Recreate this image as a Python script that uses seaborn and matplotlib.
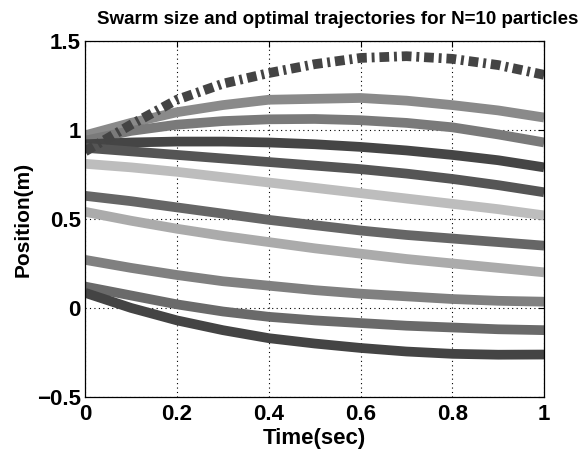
import numpy as np
import pandas as pd
import seaborn as sns
import matplotlib.pyplot as plt

# time samples (sec)
t = [0.0, 0.1, 0.2, 0.3, 0.4, 0.5, 0.6, 0.7, 0.8, 0.9, 1.0]

# swarm size curve (dash-dot)
swarm = [0.88, 1.03, 1.17, 1.26, 1.32, 1.37, 1.405, 1.415, 1.40, 1.365, 1.31]

# particle trajectories
p1 = [0.97, 1.04, 1.10, 1.14, 1.17, 1.175, 1.18, 1.165, 1.14, 1.11, 1.07]
p2 = [0.94, 0.995, 1.03, 1.05, 1.06, 1.062, 1.055, 1.04, 1.015, 0.975, 0.93]
p3 = [0.92, 0.93, 0.935, 0.935, 0.93, 0.92, 0.905, 0.885, 0.86, 0.83, 0.79]
p4 = [0.90, 0.88, 0.86, 0.84, 0.82, 0.80, 0.78, 0.755, 0.725, 0.69, 0.65]
p5 = [0.81, 0.79, 0.765, 0.735, 0.705, 0.675, 0.645, 0.615, 0.585, 0.555, 0.52]
p6 = [0.63, 0.60, 0.565, 0.53, 0.495, 0.465, 0.435, 0.41, 0.39, 0.37, 0.35]
p7 = [0.54, 0.49, 0.445, 0.405, 0.37, 0.335, 0.305, 0.275, 0.25, 0.225, 0.20]
p8 = [0.27, 0.225, 0.185, 0.15, 0.125, 0.10, 0.08, 0.065, 0.05, 0.04, 0.035]
p9 = [0.12, 0.07, 0.02, -0.02, -0.05, -0.07, -0.085, -0.10, -0.11, -0.12, -0.125]
p10 = [0.085, 0.0, -0.07, -0.125, -0.17, -0.20, -0.225, -0.245, -0.258, -0.263, -0.262]

particles = [p1, p2, p3, p4, p5, p6, p7, p8, p9, p10]
grays = ["#8a8a8a", "#7a7a7a", "#454545", "#555555", "#bdbdbd",
         "#666666", "#ababab", "#808080", "#6a6a6a", "#444444"]

xticks = [0, 0.2, 0.4, 0.6, 0.8, 1]
xlabels = ["0", "0.2", "0.4", "0.6", "0.8", "1"]
yticks = [-0.5, 0, 0.5, 1, 1.5]
ylabels = ["\u22120.5", "0", "0.5", "1", "1.5"]

rows = []
for i, p in enumerate(particles):
    for tt, v in zip(t, p):
        rows.append({"t": tt, "pos": v, "particle": f"p{i+1}"})
df = pd.DataFrame(rows)
df_sw = pd.DataFrame({"t": t, "pos": swarm})

sns.set_style("white")
plt.rcParams["font.family"] = ["Liberation Sans", "DejaVu Sans"]
plt.rcParams["font.weight"] = "bold"
plt.rcParams["text.color"] = "black"
plt.rcParams["axes.labelcolor"] = "black"

fig = plt.figure(figsize=(5.87, 4.51), dpi=100)
ax = fig.add_axes([0.145, 0.12, 0.782, 0.789])

pal = {f"p{i+1}": c for i, c in enumerate(grays)}
sns.lineplot(data=df, x="t", y="pos", hue="particle", palette=pal,
             linewidth=7, legend=False, ax=ax, solid_capstyle="butt")
sns.lineplot(data=df_sw, x="t", y="pos", color="#444444", linewidth=7,
             linestyle=(0, (1.0, 0.5, 0.3, 0.5)), ax=ax, dash_capstyle="butt")

ax.set_xlim(0, 1)
ax.set_ylim(-0.5, 1.5)
ax.set_xticks(xticks)
ax.set_xticklabels(xlabels)
ax.set_yticks(yticks)
ax.set_yticklabels(ylabels)
ax.tick_params(direction="in", top=True, right=True, length=4, width=0.8,
               labelsize=16, colors="black")
ax.tick_params(axis="y", pad=3)
ax.tick_params(axis="x", pad=5)
for lab in ax.get_xticklabels() + ax.get_yticklabels():
    lab.set_fontweight("bold")
ax.grid(True, linestyle=(0, (1, 3)), color="black", linewidth=0.8)
for s in ax.spines.values():
    s.set_color("black")
    s.set_linewidth(0.9)

ax.set_xlabel("Time(sec)", fontsize=16, fontweight="bold", labelpad=2, color="black")
ax.set_ylabel("Position(m)", fontsize=15, fontweight="bold", labelpad=3, color="black")
ax.set_title("Swarm size and optimal trajectories for N=10 particles",
             fontsize=13.5, fontweight="bold", pad=12, x=0.55, color="black")

fig.savefig("out.png", dpi=100)
